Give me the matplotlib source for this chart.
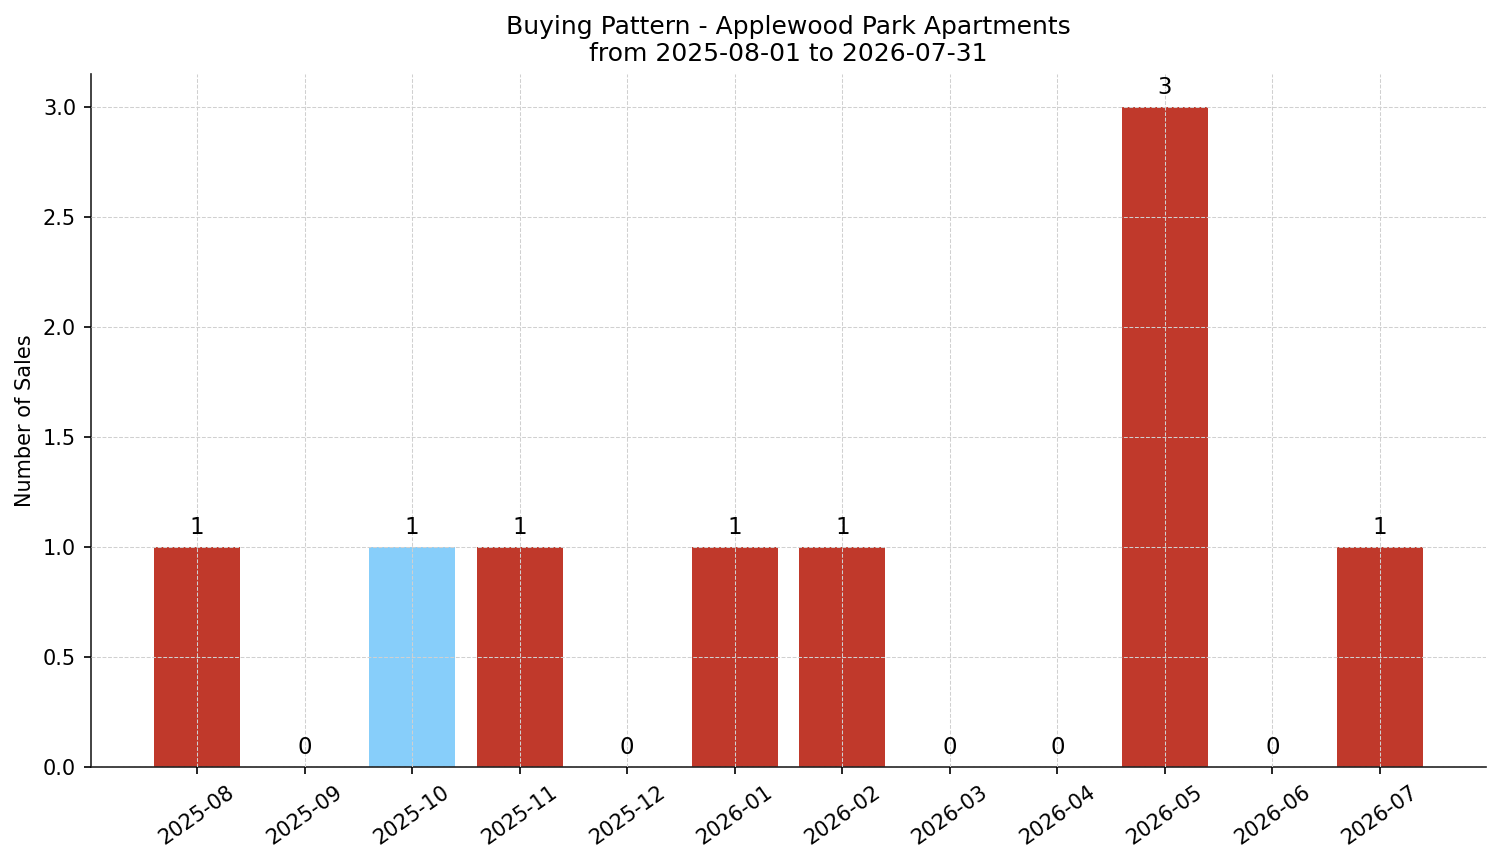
import matplotlib
matplotlib.use("Agg")
import matplotlib.pyplot as plt

# --- data ---
months = ['2025-08', '2025-09', '2025-10', '2025-11', '2025-12', '2026-01',
          '2026-02', '2026-03', '2026-04', '2026-05', '2026-06', '2026-07']
sales = [1, 0, 1, 1, 0, 1, 1, 0, 0, 3, 0, 1]
highlight = '2025-10'

red = '#C0392B'
blue = '#87CEFA'
colors = [blue if m == highlight else red for m in months]

fig, ax = plt.subplots(figsize=(1501 / 150, 863 / 150), dpi=150)
bars = ax.bar(months, sales, color=colors, width=0.8)

# value labels above bars
for rect, v in zip(bars, sales):
    ax.annotate(str(v), (rect.get_x() + rect.get_width() / 2, v),
                xytext=(0, 4), textcoords='offset points',
                ha='center', va='bottom', fontsize=11)

ax.set_title('Buying Pattern - Applewood Park Apartments\nfrom 2025-08-01 to 2026-07-31',
             fontsize=12)
ax.set_ylabel('Number of Sales')
ax.grid(True, linestyle='--', linewidth=0.5, color='#d0d0d0')
ax.set_axisbelow(False)
ax.spines['top'].set_visible(False)
ax.spines['right'].set_visible(False)
ax.spines['left'].set_color('#222222')
ax.spines['bottom'].set_color('#222222')
plt.xticks(rotation=35)

plt.tight_layout(pad=0.7)
plt.savefig('out.png', dpi=150)
